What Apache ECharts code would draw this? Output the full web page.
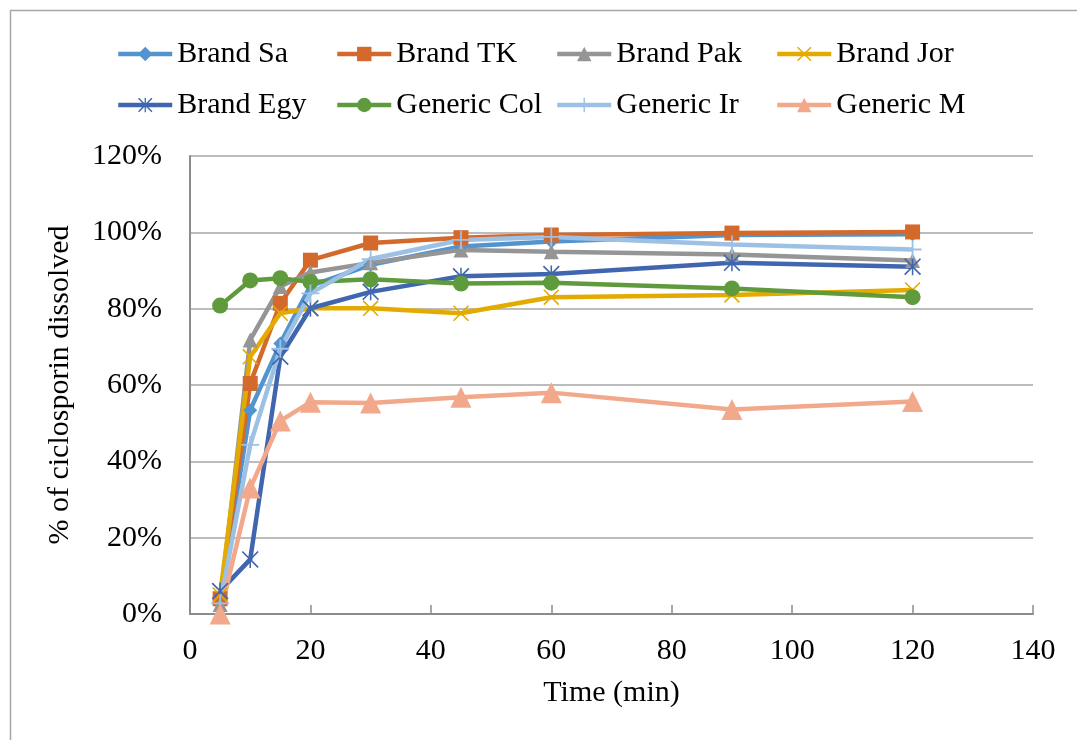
<!DOCTYPE html>
<html>
<head>
<meta charset="utf-8">
<script src="https://cdn.jsdelivr.net/npm/echarts@6/dist/echarts.min.js"></script>
<style>html,body{margin:0;padding:0;background:#fff;}#c{width:1077px;height:740px;}</style>
</head>
<body>
<div id="c"></div>
<script>
const times = [5, 10, 15, 20, 30, 45, 60, 90, 120];
const seriesNames = ['Brand Sa', 'Brand TK', 'Brand Pak', 'Brand Jor', 'Brand Egy', 'Generic Col', 'Generic Ir', 'Generic M'];
const brandSa   = [3.5, 53.4, 70.9, 86.0, 91.5, 96.3, 97.6, 99.3, 99.5];
const brandTK   = [4.0, 60.4, 81.4, 92.7, 97.2, 98.6, 99.3, 99.8, 100.1];
const brandPak  = [2.5, 71.8, 85.8, 89.5, 92.0, 95.4, 94.9, 94.2, 92.6];
const brandJor  = [5.0, 67.4, 78.8, 80.1, 80.1, 78.8, 83.0, 83.6, 84.9];
const brandEgy  = [6.0, 14.3, 67.4, 80.1, 84.4, 88.5, 89.1, 92.0, 91.0];
const genericCol= [80.8, 87.4, 88.0, 87.0, 87.7, 86.6, 86.8, 85.3, 83.0];
const genericIr = [2.8, 44.3, 69.5, 84.0, 93.0, 98.0, 98.8, 96.8, 95.5];
const genericM  = [0.0, 33.0, 50.6, 55.5, 55.3, 56.8, 58.0, 53.6, 55.7];
const xTicks = [0, 20, 40, 60, 80, 100, 120, 140];
const yTicks = [0, 20, 40, 60, 80, 100, 120];

const values = [brandSa, brandTK, brandPak, brandJor, brandEgy, genericCol, genericIr, genericM];
const colors = ['#5394CF', '#D36A2B', '#959595', '#E3AA00', '#3F66AF', '#5F9B3D', '#9DC1E5', '#F2A88A'];
const X_PATH = 'path://M0,0.7 L0.7,0 L10,9.3 L9.3,10 Z M9.3,0 L10,0.7 L0.7,10 L0,9.3 Z';
const AST_PATH = 'path://M0,0.7 L0.7,0 L10,9.3 L9.3,10 Z M9.3,0 L10,0.7 L0.7,10 L0,9.3 Z M4.55,0 L5.45,0 L5.45,10 L4.55,10 Z';
const PLUS_PATH = 'path://M4.5,0 L5.5,0 L5.5,10 L4.5,10 Z M0,4.5 L10,4.5 L10,5.5 L0,5.5 Z';
const symbols = ['diamond', 'rect', 'triangle', X_PATH, AST_PATH, 'circle', PLUS_PATH, 'triangle'];
const symSizes = [14, 15, 15, 16, 17, 16, 18, 21];

const FONT = '"Liberation Serif", "Times New Roman", serif';

const series = seriesNames.map((n, i) => ({
  name: n,
  type: 'line',
  data: times.map((t, j) => [t, values[i][j]]),
  symbol: symbols[i],
  symbolSize: symSizes[i],
  showAllSymbol: true,
  lineStyle: { width: 4.5, color: colors[i] },
  itemStyle: { color: colors[i] },
  emphasis: { disabled: true },
  animation: false
}));

const legendCols = [116, 335, 555, 775];
const legends = legendCols.map((lx, k) => ({
  orient: 'vertical',
  left: lx,
  top: 39,
  padding: 0,
  itemWidth: 54,
  itemHeight: 18,
  itemGap: 21,
  lineStyle: { width: 4.5 },
  data: [seriesNames[k], seriesNames[k + 4]],
  textStyle: { fontFamily: FONT, fontSize: 30, color: '#000', lineHeight: 30 },
  selectedMode: false
}));

const chart = echarts.init(document.getElementById('c'), null, { renderer: 'canvas' });
chart.setOption({
  backgroundColor: '#fff',
  color: colors,
  animation: false,
  graphic: [{
    type: 'rect', shape: { x: 10.5, y: 10.5, width: 1200, height: 900 },
    style: { fill: 'none', stroke: '#A6A6A6', lineWidth: 1.5 }, silent: true, z: -1
  }],
  legend: legends,
  grid: { left: 190, right: 44, top: 156, bottom: 126, containLabel: false },
  xAxis: {
    type: 'value', min: 0, max: 140, interval: 20,
    name: 'Time (min)', nameLocation: 'middle', nameGap: 64,
    nameTextStyle: { fontFamily: FONT, fontSize: 30, color: '#000' },
    axisLine: { show: true, lineStyle: { color: '#8C8C8C', width: 2 } },
    axisTick: { show: true, inside: true, length: 9, lineStyle: { color: '#8C8C8C', width: 1.5 } },
    axisLabel: { fontFamily: FONT, fontSize: 30, color: '#000', margin: 22,
      customValues: xTicks },
    splitLine: { show: false }
  },
  yAxis: {
    type: 'value', min: 0, max: 120, interval: 20,
    name: '% of ciclosporin dissolved', nameLocation: 'middle', nameGap: 115,
    nameTextStyle: { fontFamily: FONT, fontSize: 30, color: '#000' },
    axisLine: { show: true, lineStyle: { color: '#8C8C8C', width: 2 } },
    axisTick: { show: false },
    axisLabel: { fontFamily: FONT, fontSize: 30, color: '#000', margin: 28,
      formatter: v => yTicks.includes(v) ? v + '%' : '' },
    splitLine: { show: true, lineStyle: { color: '#A6A6A6', width: 1.5 } }
  },
  series: series
});
</script>
</body>
</html>
